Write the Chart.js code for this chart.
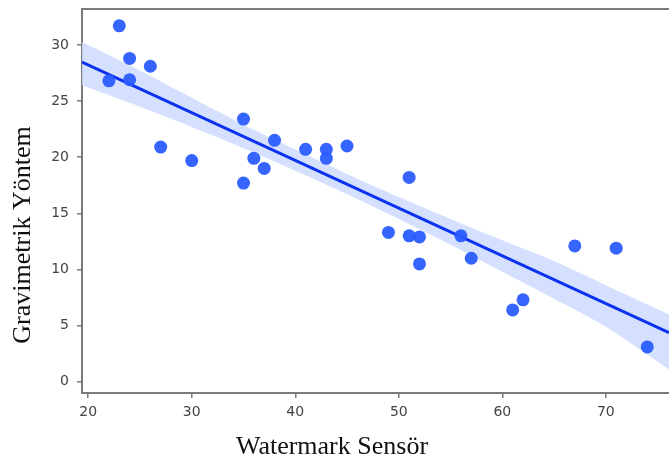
<!DOCTYPE html>
<html>
<head>
<meta charset="utf-8">
<script src="https://cdn.jsdelivr.net/npm/chart.js@4"></script>
<style>
html,body{margin:0;padding:0;background:#fff;}
#wrap{width:669px;height:465px;position:relative;}
</style>
</head>
<body>
<div id="wrap"><canvas id="c" width="669" height="465"></canvas></div>
<script>
// Observations (Watermark sensor vs gravimetric)
const sensorX = [22, 23, 24, 24, 26, 27, 30, 35, 35, 36, 37, 38, 41, 43, 43, 45, 49, 51, 51, 52, 52, 56, 57, 61, 62, 67, 71, 74];
const gravY   = [26.8, 31.7, 28.8, 26.9, 28.1, 20.9, 19.7, 23.4, 17.7, 19.9, 19.0, 21.5, 20.7, 20.7, 19.9, 21.0, 13.3, 18.2, 13.0, 12.9, 10.5, 13.0, 11.0, 6.4, 7.3, 12.1, 11.9, 3.1];

// Regression line and confidence band
const fitX   = [19.4, 76.1];
const fitY   = [28.47, 4.37];
const bandX  = [19.4, 25, 30, 35, 40, 45, 50, 55, 60, 65, 70, 76.1];
const bandHi = [30.25, 27.7, 25.3, 22.9, 20.7, 18.5, 16.45, 14.5, 12.6, 10.75, 8.6, 6.0];
const bandLo = [26.4, 24.5, 22.7, 20.8, 18.8, 16.7, 14.5, 12.2, 9.8, 7.4, 4.9, 1.1];

const xTicks = [20, 30, 40, 50, 60, 70];
const yTicks = [0, 5, 10, 15, 20, 25, 30];

const xTitle = 'Watermark Sensör';
const yTitle = 'Gravimetrik Yöntem';

const pts = sensorX.map((x, i) => ({x: x, y: gravY[i]}));
const fit = fitX.map((x, i) => ({x: x, y: fitY[i]}));
const hi = bandX.map((x, i) => ({x: x, y: bandHi[i]}));
const lo = bandX.map((x, i) => ({x: x, y: bandLo[i]}));

const spine = '#7a7a7a';
const titleFont = '26px "Liberation Serif"';

const frameAndTitles = {
  id: 'frameAndTitles',
  afterDraw(chart) {
    const {ctx, chartArea} = chart;
    ctx.save();
    ctx.strokeStyle = spine;
    ctx.lineWidth = 2;
    ctx.beginPath();
    ctx.moveTo(chartArea.left - 1, chartArea.top);
    ctx.lineTo(chartArea.right, chartArea.top);
    ctx.stroke();
    // axis titles (the original figure is cropped on the right, so they sit off-centre)
    ctx.fillStyle = '#111';
    ctx.font = titleFont;
    ctx.textAlign = 'center';
    ctx.textBaseline = 'middle';
    ctx.fillText(xTitle, 332, 447);
    ctx.translate(23, 235);
    ctx.rotate(-Math.PI / 2);
    ctx.fillText(yTitle, 0, 0);
    ctx.restore();
  }
};

new Chart(document.getElementById('c'), {
  type: 'scatter',
  data: {
    datasets: [
      {type: 'line', data: hi, borderWidth: 0, pointRadius: 0, fill: '+1',
       backgroundColor: 'rgba(205,218,253,0.85)', borderColor: 'rgba(0,0,0,0)', tension: 0.3, order: 4},
      {type: 'line', data: lo, borderWidth: 0, pointRadius: 0, fill: false,
       borderColor: 'rgba(0,0,0,0)', tension: 0.3, order: 3},
      {type: 'line', data: fit, borderWidth: 3, pointRadius: 0, fill: false,
       borderColor: '#0a32f0', order: 2},
      {data: pts, pointRadius: 6.5, pointHoverRadius: 6.5, backgroundColor: 'rgba(42,92,255,0.95)',
       borderWidth: 0, order: 1}
    ]
  },
  options: {
    responsive: false,
    animation: false,
    events: [],
    layout: {autoPadding: false, padding: {top: 9, right: 0, left: 0, bottom: 0}},
    plugins: {legend: {display: false}, tooltip: {enabled: false}},
    scales: {
      x: {
        type: 'linear', min: 19.4, max: 76.1,
        afterFit(s) { s.height = 72; s.paddingLeft = 0; s.paddingRight = 0; },
        afterBuildTicks(s) { s.ticks = xTicks.map(v => ({value: v})); },
        ticks: {includeBounds: false, color: '#444', font: {family: 'DejaVu Sans', size: 14}, padding: 6},
        grid: {display: true, drawOnChartArea: false, drawTicks: true, tickLength: 5, color: spine, lineWidth: 1.5},
        border: {display: true, color: spine, width: 2},
        title: {display: false}
      },
      y: {
        type: 'linear', min: -1.0, max: 33.2,
        afterFit(s) { s.width = 82; s.paddingTop = 0; s.paddingBottom = 0; },
        afterBuildTicks(s) { s.ticks = yTicks.map(v => ({value: v})); },
        ticks: {includeBounds: false, color: '#444', font: {family: 'DejaVu Sans', size: 14}, padding: 8},
        grid: {display: true, drawOnChartArea: false, drawTicks: true, tickLength: 5, color: spine, lineWidth: 1.5},
        border: {display: true, color: spine, width: 2},
        title: {display: false}
      }
    }
  },
  plugins: [frameAndTitles]
});
</script>
</body>
</html>
